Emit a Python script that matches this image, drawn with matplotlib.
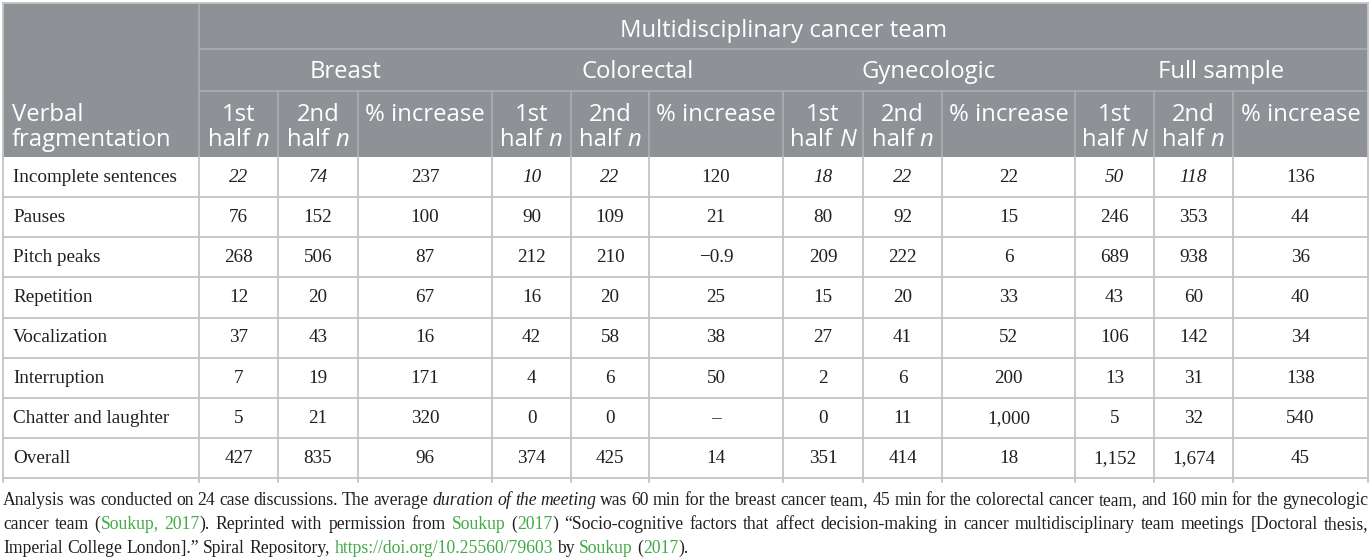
import matplotlib
matplotlib.use("Agg")
import matplotlib.pyplot as plt
from matplotlib.patches import Rectangle

# ---- data ----
row_labels = ["Incomplete sentences", "Pauses", "Pitch peaks", "Repetition",
              "Vocalization", "Interruption", "Chatter and laughter", "Overall"]
groups = ["Breast", "Colorectal", "Gynecologic", "Full sample"]
sub_headers = [
    [("1st", "n"), ("2nd", "n"), None],
    [("1st", "n"), ("2nd", "n"), None],
    [("1st", "N"), ("2nd", "n"), None],
    [("1st", "N"), ("2nd", "n"), None],
]
breast_1 = [22, 76, 268, 12, 37, 7, 5, 427]
breast_2 = [74, 152, 506, 20, 43, 19, 21, 835]
breast_pct = [237, 100, 87, 67, 16, 171, 320, 96]
colo_1 = [10, 90, 212, 16, 42, 4, 0, 374]
colo_2 = [22, 109, 210, 20, 58, 6, 0, 425]
colo_pct = [120, 21, -0.9, 25, 38, 50, None, 14]
gyn_1 = [18, 80, 209, 15, 27, 2, 0, 351]
gyn_2 = [22, 92, 222, 20, 41, 6, 11, 414]
gyn_pct = [22, 15, 6, 33, 52, 200, 1000, 18]
full_1 = [50, 246, 689, 43, 106, 13, 5, 1152]
full_2 = [118, 353, 938, 60, 142, 31, 32, 1674]
full_pct = [136, 44, 36, 40, 34, 138, 540, 45]
columns = [breast_1, breast_2, breast_pct, colo_1, colo_2, colo_pct,
           gyn_1, gyn_2, gyn_pct, full_1, full_2, full_pct]

# footnote runs: n = normal, i = italic, g = green link
note_lines = [
    [("Analysis was conducted on 24 case discussions. The average ", "n"),
     ("duration of the meeting", "i"),
     (" was 60 min for the breast cancer team, 45 min for the colorectal cancer team, and 160 min for the gynecologic", "n")],
    [("cancer team (", "n"), ("Soukup, 2017", "g"), ("). Reprinted with permission from ", "n"),
     ("Soukup", "g"), (" (", "n"), ("2017", "g"),
     (") \u201cSocio-cognitive factors that affect decision-making in cancer multidisciplinary team meetings [Doctoral thesis,", "n")],
    [("Imperial College London].\u201d Spiral Repository, ", "n"),
     ("https://doi.org/10.25560/79603", "g"), (" by ", "n"), ("Soukup", "g"),
     (" (", "n"), ("2017", "g"), (").", "n")],
]


def fmt(v):
    if v is None:
        return "\u2013"
    if isinstance(v, float):
        return ("\u2212" if v < 0 else "") + f"{abs(v)}"
    return f"{v:,}"


# ---- layout ----
W, H = 1372, 560
col_x = [3, 199, 278, 358, 492, 571, 649, 783, 863, 942, 1075, 1154, 1233, 1368]
hdr_y = [3, 49, 91, 157]
tbl_bottom = 478
row_h = (tbl_bottom - hdr_y[3]) / len(row_labels)

HDR_BG = "#8e9296"
HDR_LINE = "#abaeb1"
GRID = "#c4c4c4"
INK = "#231f20"
GREEN = "#44a947"

fig = plt.figure(figsize=(W / 100, H / 100), dpi=100)
ax = fig.add_axes([0, 0, 1, 1])
ax.set_xlim(0, W)
ax.set_ylim(H, 0)
ax.axis("off")
renderer = fig.canvas.get_renderer()

SANS = dict(family="Open Sans", color="white", fontsize=17.2)
SERIF = dict(family="Liberation Serif", color=INK, fontsize=13.8)


def text_w(s, **kw):
    t = ax.text(0, 0, s, **kw)
    w = t.get_window_extent(renderer).width
    t.remove()
    return w


def piece_style(kind, base):
    st = dict(base)
    if kind == "i":
        st["style"] = "italic"
    elif kind == "g":
        st["color"] = GREEN
    return st


def to_words(runs):
    words = [[]]
    for txt, kind in runs:
        parts = txt.split(" ")
        for k, p in enumerate(parts):
            if k > 0:
                words.append([])
            if p:
                words[-1].append((p, kind))
    return [w for w in words if w]


def draw_words(words, x, y, base, ha="left", justify=None):
    widths = [[text_w(p, **piece_style(k, base)) for p, k in w] for w in words]
    totals = [sum(w) for w in widths]
    gap = text_w("x x", **base) - text_w("xx", **base)
    if justify is not None and len(words) > 1:
        gap = (justify - sum(totals)) / (len(words) - 1)
    total = sum(totals) + gap * (len(words) - 1)
    cx = x - total / 2 if ha == "center" else x
    for w, ws in zip(words, widths):
        for (p, k), pw in zip(w, ws):
            ax.text(cx, y, p, ha="left", va="baseline", **piece_style(k, base))
            cx += pw
        cx += gap


# header background
ax.add_patch(Rectangle((col_x[0], hdr_y[0]), col_x[-1] - col_x[0], hdr_y[3] - hdr_y[0],
                       facecolor=HDR_BG, edgecolor="none", zorder=0))
ax.plot([col_x[1], col_x[1]], [hdr_y[0], hdr_y[3]], color=HDR_LINE, lw=1.2)
for yy in hdr_y[1:3]:
    ax.plot([col_x[1], col_x[-1]], [yy, yy], color=HDR_LINE, lw=1.2)
for xx in col_x[2:-1]:
    ax.plot([xx, xx], [hdr_y[2], hdr_y[3]], color=HDR_LINE, lw=1.2)

# header texts (baselines)
ax.text((col_x[1] + col_x[-1]) / 2, 37, "Multidisciplinary cancer team",
        ha="center", va="baseline", **SANS)
for g, name in enumerate(groups):
    x0, x1 = col_x[1 + 3 * g], col_x[4 + 3 * g]
    ax.text((x0 + x1) / 2, 78, name, ha="center", va="baseline", **SANS)
    for j, sh in enumerate(sub_headers[g]):
        a, b = col_x[1 + 3 * g + j], col_x[2 + 3 * g + j]
        xc = (a + b) / 2
        if sh is None:
            ax.text(xc, 121, "% increase", ha="center", va="baseline", **SANS)
        else:
            ax.text(xc, 121, sh[0], ha="center", va="baseline", **SANS)
            draw_words([[("half", "n")], [(sh[1], "i")]], xc, 146, SANS, ha="center")
ax.text(12, 121, "Verbal", ha="left", va="baseline", **SANS)
ax.text(12, 146, "fragmentation", ha="left", va="baseline", **SANS)

# data grid
for i in range(1, len(row_labels) + 1):
    yy = hdr_y[3] + i * row_h
    ax.plot([col_x[0], col_x[-1]], [yy, yy], color=GRID, lw=1.3)
for xx in col_x:
    ax.plot([xx, xx], [hdr_y[3], tbl_bottom + 4], color=GRID, lw=1.3)
ax.plot([col_x[0], col_x[0]], [hdr_y[0], hdr_y[3]], color=GRID, lw=1.3)
ax.plot([col_x[-1], col_x[-1]], [hdr_y[0], hdr_y[3]], color=GRID, lw=1.3)
ax.plot([col_x[0], col_x[-1]], [hdr_y[0], hdr_y[0]], color=GRID, lw=1.3)

# data texts
for i, lab in enumerate(row_labels):
    yb = hdr_y[3] + i * row_h + 25
    ax.text(13, yb, lab, ha="left", va="baseline", **SERIF)
    for c, vals in enumerate(columns):
        xc = (col_x[1 + c] + col_x[2 + c]) / 2
        st = dict(SERIF)
        if i == 0 and c % 3 != 2:
            st["style"] = "italic"
        ax.text(xc, yb, fmt(vals[i]), ha="center", va="baseline", **st)

# footnote, size fitted so the last line ends where it does in the source
NOTE = dict(family="Liberation Serif", color=INK, fontsize=12)
words3 = to_words(note_lines[2])
probe = sum(sum(text_w(p, **piece_style(k, NOTE)) for p, k in w) for w in words3)
probe += (text_w("x x", **NOTE) - text_w("xx", **NOTE)) * (len(words3) - 1)
NOTE["fontsize"] = 12 * 688 / probe
for n, runs in enumerate(note_lines):
    yb = 505 + n * 24
    just = col_x[-1] - col_x[0] if n < len(note_lines) - 1 else None
    draw_words(to_words(runs), col_x[0], yb, NOTE, justify=just)

fig.savefig("out.png", dpi=100)
